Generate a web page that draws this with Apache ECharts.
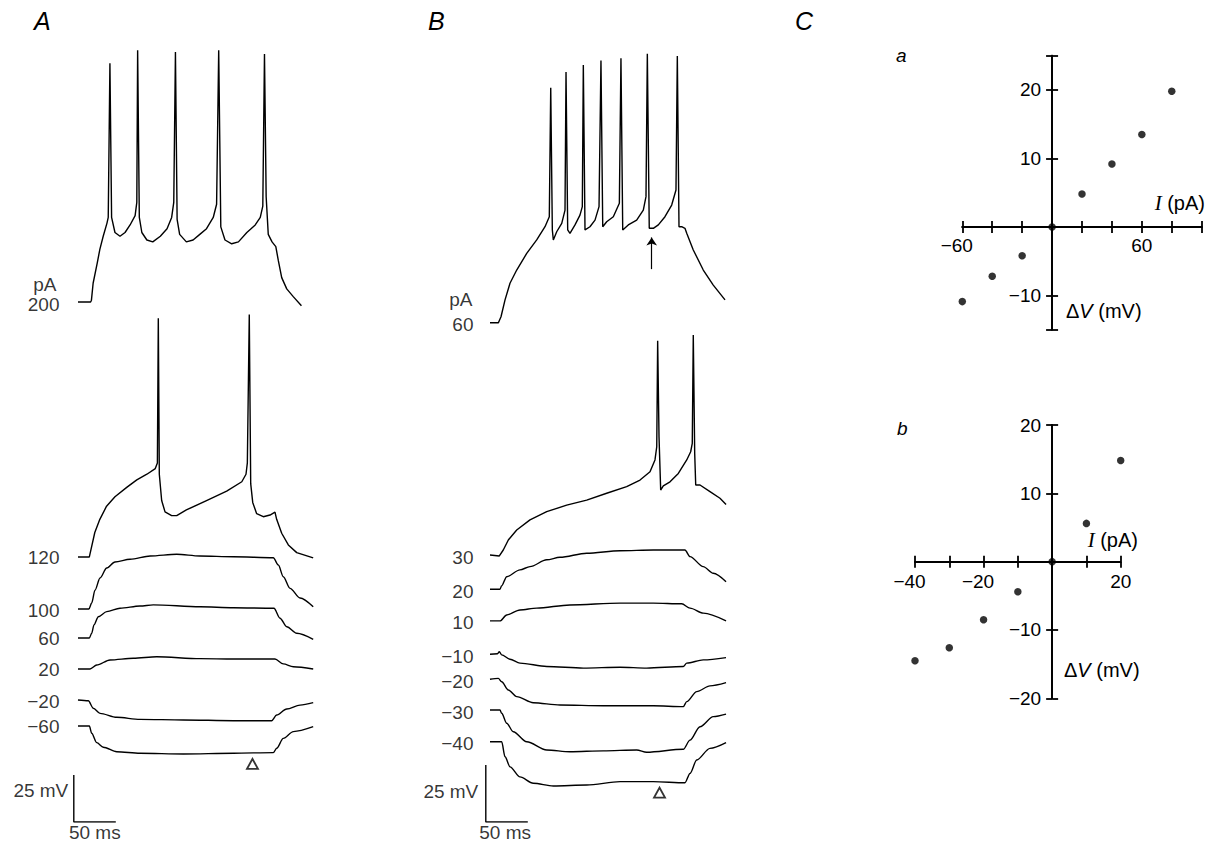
<!DOCTYPE html>
<html><head><meta charset="utf-8">
<script src="https://cdn.jsdelivr.net/npm/echarts@6/dist/echarts.min.js"></script>
<style>html,body{margin:0;padding:0;background:#fff}#c{width:1218px;height:843px}</style>
</head><body><div id="c"></div>
<script>
// ================= DATA =================
// Panel A: injected current (pA) of each trace, top to bottom
const currentsA = [200, 120, 100, 60, 20, -20, -60];
// traces: [time (ms), membrane potential change (mV)]
const traceA200 = [[0,0],[15,0],[16,1],[18,10],[23,21],[26,28],[30,35],[34.5,42],[36,45],[38,127],[40,45],[44,37],[50,35],[56,37],[62,41],[68,46],[70,53],[71,134],[73,45],[76,37],[82,33],[89,32],[98,35],[106,39],[111.5,45],[114,53],[116,133],[118,44],[121,36],[129,32],[137,33],[145,36],[153,39],[161,45],[165,52],[167.5,134],[170,40],[175,33],[183,31],[191,32],[201,37],[211,41],[217,45],[220,51],[222,132],[224,56],[226.5,36],[231,32],[235.5,29.5],[238.5,22],[242.5,13],[248.5,7],[256,3],[266,-2]];
const traceA120 = [[0,0],[13.5,0],[15.5,4],[20,13],[26,20],[34,27],[44,32],[58,37],[70,41],[82,44],[92,47],[94.5,50],[95.6,127],[96.8,44],[99.6,30],[103.6,24],[111.5,22],[117.5,22],[129,25],[153,30],[177,35],[195,40],[200,44],[201.6,50],[203.9,129],[205.6,39],[208,29],[212.7,23],[220.6,21.4],[228.6,22.3],[234.5,23.8],[236.5,20],[242.5,12.6],[250.4,6.4],[260.4,2.3],[280,-0.5]];
const traceA100 = [[0,0],[13,0],[16.3,3.2],[20.2,10],[26.2,16.5],[34.2,21.8],[44,25],[62,26.5],[86,28.2],[117.5,29.1],[145,28.2],[185,27.8],[232.5,27.3],[238.5,23.4],[244.4,17.2],[252.4,11],[264.3,5.9],[280,1.2]];
const traceA60 = [[0,0],[13.5,0],[16.3,2.5],[19,6.9],[24.2,11.3],[34.2,14],[50,15.8],[73.8,17],[89.6,17.6],[145.2,16.6],[185,16.1],[233.3,15.8],[240.5,10.5],[248.5,6],[260.4,2.5],[280,-0.7]];
const traceA20 = [[0,0],[14.3,0],[22.3,2.1],[38.1,4.8],[65.8,5.7],[93.7,6.5],[145.2,5.5],[185,5.3],[234.5,5.3],[244.4,2.7],[256.3,1.2],[280,0]];
const traceAm20 = [[0,0],[12.3,-0.4],[18.2,-4.4],[26.2,-7.1],[46.1,-9.2],[73.8,-10.3],[125.4,-10.6],[185,-11],[230.6,-11],[236.5,-8],[248.5,-4.8],[264.3,-2.7],[280,-1.4]];
const traceAm60 = [[0,0],[13.5,0],[16.3,-3.9],[22.3,-8.9],[30.1,-11.3],[46.1,-13.7],[73.8,-14.5],[125.4,-14.9],[185,-14.5],[232.5,-14.2],[236.5,-11.9],[244.4,-6.6],[256.3,-3],[280,-0.4]];
const tracesA = [traceA200, traceA120, traceA100, traceA60, traceA20, traceAm20, traceAm60];
const spikingA = [true, true, false, false, false, false, false];
const triangleA = [207.7, -20.2];           // [ms, mV] relative to last trace

// Panel B
const currentsB = [60, 30, 20, 10, -10, -20, -30, -40];
const traceB60 = [[0,0],[10,0],[13.1,2.6],[17.9,10],[23.8,17.3],[31.8,23.1],[43.7,30.4],[55.6,36.3],[65.5,42.1],[70.6,46.5],[72.3,103],[74.2,40.7],[75.4,36.3],[79.4,39.9],[85.4,43.6],[89.3,49.4],[90.5,110],[92.5,40.7],[95.2,39.2],[101.2,42.9],[107.1,47.2],[109.9,50.9],[111.1,113],[113.1,40.7],[119,42.1],[125,45],[129.8,50.9],[132.1,115],[134.2,42.1],[138.9,44.3],[146.8,46.5],[154,52.4],[155.9,116],[158,40.7],[164.6,42.9],[174.6,45],[182.5,49.4],[185.7,55.3],[187.3,118],[189.6,41.4],[194.4,41.4],[200.4,42.9],[208.3,46.5],[216.3,51.6],[221.4,58.2],[223,117],[225,42.1],[228.2,42.1],[232.1,41.4],[234.2,39.2],[242,31.9],[253.9,23.1],[265.8,16.5],[279.8,10]];
const traceB30 = [[0,0],[11.1,-0.4],[15.8,2.2],[21.8,6.6],[31.8,11],[47.6,15.4],[67.5,19],[91.3,21.9],[115.1,24.1],[138.9,27.1],[162.7,30],[178.6,32.9],[190.5,36.5],[196.4,41.7],[198.5,47.5],[199.6,94],[201.2,52],[203.2,28.5],[206.3,30.3],[214.3,32.1],[224.2,35.8],[234.2,41.7],[238.9,45.3],[240.8,49],[242,96.5],[243.7,44.4],[244.9,30.7],[250,30.7],[261.9,27.8],[273.8,24.9],[281,22.2]];
const traceB20 = [[0,0],[11.9,0],[13.7,1.4],[19.9,5.5],[35.7,8.5],[47.6,9.9],[67.5,12.9],[83.3,14],[115.1,15.8],[154.8,16.9],[194.4,17.2],[232.1,17.2],[238.1,14.3],[253.9,9.9],[265.8,7],[281,3.3]];
const traceB10 = [[0,0],[11.9,0],[19.9,2.6],[35.7,4.8],[55.6,5.6],[95.2,7],[154.8,7.8],[194.4,7.8],[228.2,7.5],[238.1,5.6],[253.9,3.4],[281,0]];
const traceBm10 = [[0,0],[9,0.2],[11.1,1.1],[13.9,-0.3],[23.8,-2.2],[35.7,-3.9],[67.5,-5.4],[111.1,-6.1],[154.8,-5.7],[186.5,-6.1],[230.1,-5.4],[234.2,-3.9],[253.9,-2.5],[281,-1.5]];
const traceBm20 = [[0,0],[9.9,0.4],[13.9,-1.1],[21.8,-4.7],[31.8,-7.6],[51.5,-10.3],[83.3,-11.3],[134.9,-11.6],[194.4,-11.6],[230.1,-12],[234.2,-9.8],[246.1,-5.4],[261.9,-2.9],[281,-1.5]];
const traceBm30 = [[0,0],[11.9,0],[13.9,-1.4],[19.9,-5.8],[27.7,-9.5],[43.7,-13.9],[67.5,-17.5],[95.2,-18.3],[134.9,-17.9],[174.6,-17.5],[186.5,-18.5],[230.1,-17.2],[238.1,-13.2],[250,-7.3],[265.8,-2.9],[281,-1.8]];
const traceBm40 = [[0,0],[13.9,0],[17.9,-6.6],[23.8,-11],[35.7,-15.4],[51.5,-18.2],[75.4,-19.4],[115.1,-19],[154.8,-17.5],[194.4,-17.5],[232.1,-18],[238.1,-13.9],[246.1,-8],[261.9,-2.9],[281,-0.4]];
const tracesB = [traceB60, traceB30, traceB20, traceB10, traceBm10, traceBm20, traceBm30, traceBm40];
const spikingB = [true, true, false, false, false, false, false, false];
const triangleB = [201.8, -22.3];           // relative to last trace
const arrowB = [192.5, 23.5, 37.4];         // [ms, tail mV, tip mV] relative to top trace

// Scale bars
const scaleMV = 25, scaleMS = 50;

// Panel C: I-V relations
const ivA_I  = [-60, -40, -20, 0, 20, 40, 60, 80];
const ivA_dV = [-10.9, -7.2, -4.2, 0, 4.8, 9.2, 13.5, 19.8];
const ivA_xLabels = [-60, 60];
const ivA_yLabels = [-10, 10, 20];
const ivA_yTicks  = [-15, -10, 10, 20, 25];
const ivB_I  = [-40, -30, -20, -10, 0, 10, 20];
const ivB_dV = [-14.5, -12.6, -8.5, -4.4, 0, 5.6, 14.8];
const ivB_xLabels = [-40, -20, 20];
const ivB_yLabels = [-20, -10, 10, 20];
const ivB_yTicks  = [-20, -10, 10, 20];

// ================= LAYOUT =================
const offsetsA = [276.6, 141.0, 113.3, 97.9, 81.4, 64.9, 51.1];   // stacking of traces (mV)
const offsetsB = [219.0, 117.1, 102.1, 88.2, 73.6, 62.6, 49.1, 35.2];
const FONT = '"Liberation Sans", Arial, Helvetica, sans-serif';
const K = '#000';
const fmt = v => v < 0 ? '\u2212' + Math.abs(v) : String(v);

const chart = echarts.init(document.getElementById('c'), null, {renderer: 'svg'});

function traceSeries(data, off, ai, spiking) {
  return {type: 'line', xAxisIndex: ai, yAxisIndex: ai, data: data.map(p => [p[0], p[1] + off]),
    showSymbol: false, symbol: 'none', smooth: spiking ? false : 0.3, smoothMonotone: 'x',
    lineStyle: {color: K, width: 1.4}, silent: true, animation: false, clip: false};
}
function textSeries(ai, items) {
  return {type: 'scatter', xAxisIndex: ai, yAxisIndex: ai, symbolSize: 1, silent: true, animation: false,
    itemStyle: {color: 'rgba(0,0,0,0)'},
    data: items.map(it => ({value: [it.t, it.v], label: {show: true, formatter: it.text, position: it.pos,
      distance: it.d, offset: it.off || [0, 0], fontSize: 19, fontFamily: FONT, color: K,
      lineHeight: it.lh || 18}}))};
}
function scaleSeries(ai) {
  return {type: 'line', xAxisIndex: ai, yAxisIndex: ai, showSymbol: false, symbol: 'none', silent: true,
    data: [[-5, scaleMV], [-5, 0], [-5 + scaleMS, 0]], lineStyle: {color: K, width: 1.4}, animation: false};
}
function triSeries(ai, t, v) {
  return {type: 'scatter', xAxisIndex: ai, yAxisIndex: ai, symbol: 'triangle', symbolSize: [11, 10], silent: true,
    itemStyle: {color: '#fff', borderColor: K, borderWidth: 1.8}, data: [[t, v]], animation: false};
}

const series = [];
tracesA.forEach((tr, i) => series.push(traceSeries(tr, offsetsA[i], 0, spikingA[i])));
const bTraceStart = series.length;
tracesB.forEach((tr, i) => series.push(traceSeries(tr, offsetsB[i], 1, spikingB[i])));
// arrow on B top trace
series[bTraceStart].markLine = {silent: true, animation: false, symbol: ['none', 'arrow'], symbolSize: 8,
  label: {show: false}, lineStyle: {color: K, width: 1.2, type: 'solid'},
  data: [[{coord: [arrowB[0], arrowB[1] + offsetsB[0]]}, {coord: [arrowB[0], arrowB[2] + offsetsB[0]]}]]};

// labels A
const labA = currentsA.map((c, i) => ({t: 0, v: offsetsA[i], text: fmt(c), pos: 'left', d: 18, off: [0, i === 0 ? 2 : 1], lh: 17}));
labA.push({t: 0, v: offsetsA[0] + 9.2, text: 'pA', pos: 'left', d: 21, lh: 16});
labA.push({t: -5, v: 17, text: scaleMV + ' mV', pos: 'left', d: 5});
labA.push({t: 20, v: 0, text: scaleMS + ' ms', pos: 'bottom', d: 2, lh: 16});
series.push(textSeries(0, labA));
const labB = currentsB.map((c, i) => ({t: 0, v: offsetsB[i], text: fmt(c), pos: 'left', d: 16, off: [0, 2], lh: 17}));
labB.push({t: 0, v: offsetsB[0] + 10, text: 'pA', pos: 'left', d: 17, lh: 16});
labB.push({t: -5, v: 13.4, text: scaleMV + ' mV', pos: 'left', d: 7});
labB.push({t: 18, v: 0, text: scaleMS + ' ms', pos: 'bottom', d: 2, lh: 16});
series.push(textSeries(1, labB));
series.push(scaleSeries(0), scaleSeries(1));
series.push(triSeries(0, triangleA[0], triangleA[1] + offsetsA[offsetsA.length - 1]));
series.push(triSeries(1, triangleB[0], triangleB[1] + offsetsB[offsetsB.length - 1]));

// IV dots
series.push({type: 'scatter', xAxisIndex: 2, yAxisIndex: 2, symbolSize: 7.5, itemStyle: {color: K}, silent: true,
  data: ivA_I.map((v, i) => [v, ivA_dV[i]]), z: 5, animation: false});
series.push({type: 'scatter', xAxisIndex: 4, yAxisIndex: 4, symbolSize: 7.5, itemStyle: {color: K}, silent: true,
  data: ivB_I.map((v, i) => [v, ivB_dV[i]]), z: 5, animation: false});

// crossing axes of panel C: placed through zero by offset from the grid edges
const gridCa = {left: 962.3, top: 55.7, width: 239.4, height: 274};
const gridCb = {left: 915, top: 425, width: 205.7, height: 273.3};
function zeroPos(g, xmin, xmax, ymin, ymax) {
  const zx = g.left + g.width * (0 - xmin) / (xmax - xmin);
  const zy = g.top + g.height * (ymax - 0) / (ymax - ymin);
  return {bottom: -(g.top + g.height - zy), top: -(zy - g.top), left: -(zx - g.left), right: -(g.left + g.width - zx)};
}
const zA = zeroPos(gridCa, -60, 100, -15, 25);
const zB = zeroPos(gridCb, -40, 20, -20, 20);

const axLine = {color: K, width: 1.8};
const xFmt = v => v < 0 ? '{neg|\u2212' + Math.abs(v) + '}' : String(v);
function ivX(gi, min, max, step, labels, pos, offset, margin) {
  return {type: 'value', gridIndex: gi, min, max, interval: step, position: pos, offset,
    axisLine: {show: true, onZero: false, lineStyle: axLine},
    axisTick: {show: true, inside: false, length: 6, lineStyle: axLine},
    axisLabel: labels ? {show: true, customValues: labels, margin, formatter: xFmt, fontSize: 19, fontFamily: FONT, color: K,
      rich: {neg: {padding: [0, 11, 0, 0], fontSize: 19, fontFamily: FONT, color: K}}} : {show: false},
    splitLine: {show: false}};
}
function ivY(gi, min, max, ticks, labels, pos, offset) {
  return {type: 'value', gridIndex: gi, min, max, position: pos, offset,
    axisLine: {show: true, onZero: false, lineStyle: axLine},
    axisTick: {show: true, inside: false, length: 6, customValues: ticks, lineStyle: axLine},
    axisLabel: labels ? {show: true, customValues: labels, margin: 11, formatter: fmt, fontSize: 19, fontFamily: FONT, color: K} : {show: false},
    splitLine: {show: false}};
}

const gridBase = {containLabel: false, outerBoundsMode: 'none'};
const option = {
  backgroundColor: '#fff',
  animation: false,
  grid: [
    Object.assign({left: 69.6, top: 40, width: 260.4, height: 782}, gridBase),
    Object.assign({left: 481.6, top: 40, width: 260.4, height: 782}, gridBase),
    Object.assign({}, gridCa, gridBase),
    Object.assign({}, gridCb, gridBase)
  ],
  xAxis: [
    {type: 'value', gridIndex: 0, min: -10, max: 300, show: false},
    {type: 'value', gridIndex: 1, min: -10, max: 300, show: false},
    ivX(2, -60, 100, 20, ivA_xLabels, 'bottom', zA.bottom, 9),
    ivX(2, -60, 100, 20, null, 'top', zA.top, 9),
    ivX(3, -40, 20, 10, ivB_xLabels, 'bottom', zB.bottom, 10),
    ivX(3, -40, 20, 10, null, 'top', zB.top, 10)
  ],
  yAxis: [
    {type: 'value', gridIndex: 0, min: 0, max: 416, show: false},
    {type: 'value', gridIndex: 1, min: 0, max: 343, show: false},
    ivY(2, -15, 25, ivA_yTicks, ivA_yLabels, 'left', zA.left),
    ivY(2, -15, 25, ivA_yTicks, null, 'right', zA.right),
    ivY(3, -20, 20, ivB_yTicks, ivB_yLabels, 'left', zB.left),
    ivY(3, -20, 20, ivB_yTicks, null, 'right', zB.right)
  ],
  series,
  graphic: [
    {type: 'text', x: 34, y: 21, style: {text: 'A', fill: K, fontSize: 25, fontStyle: 'italic', fontFamily: FONT, align: 'left', verticalAlign: 'middle'}},
    {type: 'text', x: 428, y: 21, style: {text: 'B', fill: K, fontSize: 25, fontStyle: 'italic', fontFamily: FONT, align: 'left', verticalAlign: 'middle'}},
    {type: 'text', x: 795, y: 21, style: {text: 'C', fill: K, fontSize: 25, fontStyle: 'italic', fontFamily: FONT, align: 'left', verticalAlign: 'middle'}},
    {type: 'text', x: 896, y: 55, style: {text: 'a', fill: K, fontSize: 19, fontStyle: 'italic', fontFamily: FONT, align: 'left', verticalAlign: 'middle'}},
    {type: 'text', x: 897, y: 428, style: {text: 'b', fill: K, fontSize: 19, fontStyle: 'italic', fontFamily: FONT, align: 'left', verticalAlign: 'middle'}},
    {type: 'text', x: 1205, y: 202.5, style: {text: '{i|I} (pA)', fill: K, fontSize: 20, fontFamily: FONT, align: 'right', verticalAlign: 'middle',
      rich: {i: {fontSize: 21, fontStyle: 'italic', fontFamily: '"Liberation Serif", serif', fill: K}}}},
    {type: 'text', x: 1138, y: 539.5, style: {text: '{i|I} (pA)', fill: K, fontSize: 20, fontFamily: FONT, align: 'right', verticalAlign: 'middle',
      rich: {i: {fontSize: 21, fontStyle: 'italic', fontFamily: '"Liberation Serif", serif', fill: K}}}},
    {type: 'text', x: 1066, y: 310.5, style: {text: '\u0394{v|V} (mV)', fill: K, fontSize: 20, fontFamily: FONT, align: 'left', verticalAlign: 'middle',
      rich: {v: {fontSize: 20, fontStyle: 'italic', fontFamily: FONT, fill: K}}}},
    {type: 'text', x: 1064, y: 669.5, style: {text: '\u0394{v|V} (mV)', fill: K, fontSize: 20, fontFamily: FONT, align: 'left', verticalAlign: 'middle',
      rich: {v: {fontSize: 20, fontStyle: 'italic', fontFamily: FONT, fill: K}}}}
  ]
};
chart.setOption(option);
</script>
</body></html>
